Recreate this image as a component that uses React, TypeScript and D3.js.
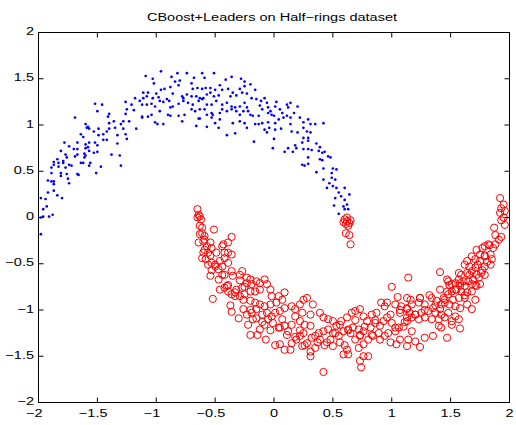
import React from "react";
import * as d3 from "d3";

const title = "CBoost+Leaders on Half\u2212rings dataset";
const xTicks = [-2, -1.5, -1, -0.5, 0, 0.5, 1, 1.5, 2];
const yTicks = [-2, -1.5, -1, -0.5, 0, 0.5, 1, 1.5, 2];

// class 1 (blue dots, upper half-ring)
const blueDots: [number, number][] = [
  [-1.98, -0.18], [-1.98, 0.0], [-1.96, 0.01], [-1.91, 0.01], [-1.88, 0.03], [-1.96, 0.09], [-1.93, 0.12],
  [-1.98, 0.21], [-1.94, 0.2], [-1.92, 0.27], [-1.87, 0.29], [-1.84, 0.24], [-1.8, 0.21], [-1.92, 0.4],
  [-1.89, 0.39], [-1.87, 0.39], [-1.87, 0.36], [-1.89, 0.48], [-1.87, 0.57], [-1.87, 0.6], [-1.89, 0.54],
  [-1.83, 0.59], [-1.83, 0.55], [-1.81, 0.48], [-1.81, 0.45], [-1.84, 0.63], [-1.81, 0.72], [-1.78, 0.81],
  [-1.77, 0.68], [-1.76, 0.65], [-1.79, 0.59], [-1.77, 0.54], [-1.76, 0.47], [-1.75, 0.42], [-1.74, 0.37],
  [-1.74, 0.57], [-1.72, 0.56], [-1.79, 0.61], [-1.74, 0.77], [-1.69, 0.66], [-1.67, 0.68], [-1.7, 0.74],
  [-1.67, 0.74], [-1.67, 0.47], [-1.66, 0.46], [-1.67, 0.81], [-1.64, 0.9], [-1.64, 0.59], [-1.62, 0.59],
  [-1.61, 0.65], [-1.62, 0.87], [-1.6, 0.75], [-1.6, 0.79], [-1.58, 0.76], [-1.57, 0.81], [-1.61, 0.69],
  [-1.6, 0.67], [-1.57, 0.72], [-1.6, 1.01], [-1.58, 0.98], [-1.57, 0.96], [-1.59, 0.97], [-1.56, 0.59],
  [-1.57, 0.56], [-1.53, 0.93], [-1.52, 0.81], [-1.5, 0.78], [-1.53, 0.7], [-1.52, 1.23], [-1.5, 1.15],
  [-1.46, 1.22], [-1.51, 0.48], [-1.47, 0.55], [-1.49, 0.89], [-1.49, 0.96], [-1.45, 0.9], [-1.45, 0.84],
  [-1.42, 0.84], [-1.5, 0.71], [-1.42, 0.93], [-1.4, 0.96], [-1.41, 1.09], [-1.4, 1.02], [-1.38, 0.68],
  [-1.31, 0.67], [-1.3, 0.56], [-1.33, 0.8], [-1.4, 1.12], [-1.36, 1.04], [-1.35, 0.97], [-1.33, 0.89],
  [-1.3, 1.01], [-1.28, 0.96], [-1.26, 0.9], [-1.25, 0.85], [-1.28, 1.04], [-1.26, 1.12], [-1.23, 1.04],
  [-1.26, 1.25], [-1.25, 1.17], [-1.21, 1.22], [-1.19, 1.16], [-1.18, 1.29], [-1.17, 0.96], [-1.14, 1.26],
  [-1.12, 1.08], [-1.69, 1.08],
  [-0.96, 1.58], [-1.09, 1.53], [-1.03, 1.5], [-1.02, 1.45], [-0.82, 1.56], [-0.74, 1.56], [-0.61, 1.56],
  [-0.59, 1.51], [-0.51, 1.56], [-0.87, 1.52], [-0.84, 1.47], [-0.8, 1.48], [-0.68, 1.51], [-0.36, 1.52],
  [-0.41, 1.49], [-0.28, 1.5], [-0.25, 1.47], [-0.2, 1.44], [-0.96, 1.38], [-0.93, 1.39], [-0.88, 1.41],
  [-0.81, 1.43], [-0.86, 1.34], [-0.7, 1.45], [-0.69, 1.39], [-0.65, 1.4], [-0.61, 1.39], [-0.58, 1.4],
  [-0.54, 1.4], [-0.5, 1.38], [-0.46, 1.43], [-0.44, 1.38], [-0.39, 1.39], [-0.35, 1.35], [-0.29, 1.39],
  [-0.25, 1.42], [-0.16, 1.38], [-1.11, 1.35], [-1.07, 1.35], [-1.11, 1.29], [-1.08, 1.31], [-1.03, 1.29],
  [-1.0, 1.34], [-0.98, 1.3], [-1.12, 1.22], [-1.08, 1.22], [-1.04, 1.23], [-1.01, 1.2], [-0.97, 1.26],
  [-0.94, 1.25], [-0.91, 1.28], [-0.89, 1.26], [-0.88, 1.19], [-0.86, 1.2], [-0.78, 1.31], [-0.77, 1.29],
  [-0.74, 1.33], [-0.7, 1.31], [-0.66, 1.31], [-0.63, 1.29], [-0.6, 1.29], [-0.57, 1.33], [-0.54, 1.35],
  [-0.51, 1.31], [-0.47, 1.32], [-0.37, 1.31], [-0.32, 1.32], [-0.27, 1.35], [-0.23, 1.34], [-0.19, 1.29],
  [-0.15, 1.28], [-0.81, 1.23], [-0.77, 1.26], [-0.73, 1.24], [-0.69, 1.22], [-0.64, 1.26], [-0.61, 1.28],
  [-0.57, 1.22], [-0.53, 1.22], [-0.49, 1.26], [-0.44, 1.22], [-0.4, 1.24], [-0.36, 1.2], [-0.33, 1.19],
  [-0.29, 1.2], [-0.25, 1.24], [-0.23, 1.19], [-1.12, 1.09], [-1.07, 1.09], [-1.04, 1.11], [-0.97, 1.15],
  [-0.9, 1.11], [-0.88, 1.1], [-0.81, 1.1], [-0.76, 1.11], [-0.7, 1.17], [-0.67, 1.15], [-0.63, 1.17],
  [-0.59, 1.17], [-0.57, 1.11], [-0.53, 1.13], [-0.52, 1.11], [-0.46, 1.13], [-0.44, 1.17], [-0.4, 1.15],
  [-0.36, 1.17], [-0.32, 1.15], [-0.29, 1.11], [-0.26, 1.15], [-0.22, 1.15], [-0.2, 1.11], [-0.18, 1.1],
  [-0.13, 1.1], [-1.01, 1.03], [-0.99, 1.01], [-0.94, 1.01], [-0.78, 1.04], [-0.64, 1.07], [-0.63, 1.07],
  [-0.53, 1.08], [-0.46, 1.06], [-0.35, 1.02], [-0.29, 1.04], [-0.25, 1.02], [-0.16, 1.01], [-0.13, 1.01],
  [-0.66, 0.99], [-0.57, 0.98], [-0.47, 0.97], [-0.5, 1.02], [-0.4, 0.89], [-0.33, 0.91], [-0.23, 0.97],
  [-0.17, 0.82],
  [-0.11, 1.26], [-0.08, 1.29], [-0.06, 1.24], [-0.12, 1.21], [-0.1, 1.17], [-0.05, 1.19], [-0.03, 1.15],
  [-0.02, 1.11], [-0.05, 1.13], [0.02, 1.25], [0.01, 1.2], [0.05, 1.17], [0.07, 1.13], [0.11, 1.22],
  [0.14, 1.24], [0.12, 1.19], [0.2, 1.2], [0.04, 1.06], [0.08, 1.08], [0.11, 1.1], [0.14, 1.08],
  [0.17, 1.13], [0.0, 1.1], [-0.05, 1.03], [-0.1, 1.02], [-0.04, 0.97], [-0.08, 0.95], [-0.06, 0.92],
  [0.01, 1.02], [0.01, 0.95], [0.06, 0.96], [0.14, 1.01], [0.15, 0.93], [0.22, 1.08], [0.25, 1.03],
  [0.29, 1.06], [0.31, 1.01], [0.35, 1.01], [0.42, 1.02], [0.25, 0.97], [0.28, 0.93], [0.31, 0.92],
  [0.2, 0.92], [0.25, 0.86], [0.29, 0.86], [0.29, 0.83], [0.24, 0.81], [0.25, 0.74], [0.29, 0.74],
  [0.18, 0.78], [0.19, 0.75], [0.16, 0.71], [0.09, 0.71], [0.12, 0.75], [0.0, 0.85], [-0.01, 0.75],
  [0.32, 0.73], [0.36, 0.8], [0.39, 0.76], [0.38, 0.72], [0.41, 0.7], [0.43, 0.71], [0.46, 0.66],
  [0.39, 0.63], [0.41, 0.62], [0.48, 0.65], [0.29, 0.65], [0.24, 0.57], [0.26, 0.56], [0.29, 0.58],
  [0.36, 0.49], [0.42, 0.53], [0.5, 0.53], [0.53, 0.52], [0.49, 0.48], [0.49, 0.43], [0.42, 0.41],
  [0.52, 0.41], [0.47, 0.37], [0.45, 0.32], [0.5, 0.34], [0.53, 0.32], [0.6, 0.32], [0.55, 0.27],
  [0.52, 0.21], [0.57, 0.23], [0.6, 0.19], [0.64, 0.25], [0.51, 0.13], [0.59, 0.12], [0.62, 0.14],
  [0.6, 0.09], [0.63, 0.09], [0.55, 0.04],
];

// class 2 (red circles, lower half-ring)
const redCircles: [number, number][] = [
  [0.6, -0.02], [0.62, -0.04], [0.64, -0.06], [0.61, -0.07], [0.63, -0.09], [0.65, -0.03], [0.59, -0.05],
  [0.62, 0.0], [0.64, -0.19], [0.61, -0.17], [0.65, -0.29],
  [-0.65, 0.09], [-0.64, 0.03], [-0.63, 0.01], [-0.65, 0.0], [-0.62, -0.02], [-0.63, -0.09], [-0.61, -0.11],
  [-0.51, -0.13], [-0.61, -0.17], [-0.63, -0.18], [-0.59, -0.2], [-0.64, -0.27], [-0.6, -0.26], [-0.54, -0.27],
  [-0.36, -0.21], [-0.39, -0.27], [-0.43, -0.29], [-0.44, -0.31], [-0.59, -0.35], [-0.56, -0.38], [-0.6, -0.38],
  [-0.57, -0.31], [-0.53, -0.33], [-0.49, -0.38], [-0.61, -0.44], [-0.58, -0.45], [-0.56, -0.51], [-0.53, -0.49],
  [-0.5, -0.53], [-0.47, -0.56], [-0.44, -0.53], [-0.46, -0.47], [-0.42, -0.44], [-0.39, -0.49], [-0.36, -0.4],
  [-0.39, -0.38], [-0.42, -0.38], [-0.54, -0.63], [-0.47, -0.67], [-0.42, -0.62], [-0.36, -0.58], [-0.35, -0.63],
  [-0.29, -0.62], [-0.27, -0.58], [-0.23, -0.65], [-0.2, -0.67], [-0.42, -0.76], [-0.39, -0.8], [-0.4, -0.74],
  [-0.36, -0.83], [-0.33, -0.85], [-0.32, -0.78], [-0.27, -0.76], [-0.25, -0.75], [-0.23, -0.71], [-0.19, -0.72],
  [-0.15, -0.69], [-0.12, -0.71], [-0.08, -0.67], [-0.06, -0.72], [-0.03, -0.78], [-0.12, -0.78], [-0.16, -0.8],
  [-0.2, -0.8], [-0.25, -0.83], [-0.29, -0.85], [-0.52, -0.88], [-0.36, -1.02], [-0.2, -0.9], [-0.16, -0.92],
  [-0.12, -0.94], [-0.08, -0.96], [-0.03, -0.94], [0.02, -0.92], [0.09, -0.81], [0.07, -0.89], [-0.02, -0.85],
  [0.04, -0.85], [-0.26, -0.99], [-0.23, -1.05], [-0.19, -1.03], [-0.15, -0.99], [-0.1, -1.05], [-0.06, -1.03],
  [-0.02, -1.07], [0.01, -1.03], [0.05, -1.01], [0.09, -0.98], [0.15, -0.96], [0.18, -0.99], [0.22, -0.94],
  [0.25, -0.89], [-0.2, -1.27], [-0.12, -1.21], [-0.08, -1.16], [-0.01, -1.14], [0.04, -1.19], [0.09, -1.17],
  [0.15, -1.16], [0.22, -1.12], [0.12, -1.23], [0.05, -1.37], [0.14, -1.43], [0.19, -1.32], [0.24, -1.39],
  [0.25, -1.25], [-0.18, -1.1], [-0.05, -1.1], [0.07, -1.1], [0.18, -1.07],
  [1.0, -0.75], [1.05, -0.86], [1.13, -0.87], [1.08, -0.96], [1.13, -0.99], [1.03, -0.94], [0.96, -0.92],
  [0.91, -0.92], [0.94, -0.96], [0.96, -1.08], [1.0, -1.14], [1.06, -1.19], [1.03, -1.23], [1.1, -1.18],
  [1.13, -1.12], [1.07, -1.03], [0.28, -0.87], [0.33, -0.94], [0.24, -1.03], [0.31, -1.05], [0.26, -1.16],
  [0.22, -1.28], [0.28, -1.36], [0.31, -1.5], [0.35, -1.41], [0.31, -1.17], [0.39, -1.03], [0.42, -1.08],
  [0.46, -1.1], [0.5, -1.12], [0.53, -1.17], [0.57, -1.12], [0.62, -1.08], [0.66, -1.03], [0.69, -1.01],
  [0.73, -0.99], [0.76, -1.07], [0.79, -1.12], [0.83, -1.05], [0.87, -1.03], [0.93, -1.12], [0.9, -1.17],
  [0.86, -1.14], [0.82, -1.19], [0.76, -1.23], [0.72, -1.21], [0.67, -1.19], [0.63, -1.21], [0.59, -1.23],
  [0.55, -1.28], [0.5, -1.25], [0.46, -1.21], [0.42, -1.23], [0.38, -1.25], [0.35, -1.28], [0.39, -1.32],
  [0.45, -1.35], [0.5, -1.39], [0.56, -1.35], [0.62, -1.43], [0.59, -1.48], [0.63, -1.48], [0.72, -1.41],
  [0.76, -1.37], [0.8, -1.32], [0.84, -1.28], [0.89, -1.25], [0.94, -1.28], [0.99, -1.35], [1.04, -1.37],
  [1.07, -1.32], [0.42, -1.67], [0.73, -1.55], [0.74, -1.62], [0.76, -1.5], [0.8, -1.5], [0.65, -1.25],
  [0.73, -1.28], [0.69, -1.32],
  [1.92, 0.21], [1.95, 0.14], [1.93, 0.1], [1.96, 0.07], [1.92, 0.05], [1.95, 0.0], [1.93, -0.03],
  [1.96, -0.08], [1.87, -0.11], [1.93, -0.21], [1.91, -0.24], [1.88, -0.29], [1.86, -0.33], [1.82, -0.29],
  [1.79, -0.31], [1.77, -0.33], [1.72, -0.35], [1.75, -0.4], [1.79, -0.42], [1.84, -0.4], [1.85, -0.45],
  [1.81, -0.48], [1.75, -0.47], [1.71, -0.45], [1.68, -0.42], [1.64, -0.47], [1.62, -0.51], [1.66, -0.53],
  [1.71, -0.54], [1.79, -0.53], [1.84, -0.51], [1.41, -0.59], [1.14, -0.65], [1.57, -0.6], [1.59, -0.62],
  [1.64, -0.6], [1.68, -0.58], [1.72, -0.62], [1.76, -0.6], [1.79, -0.62], [1.74, -0.65], [1.69, -0.67],
  [1.65, -0.69], [1.61, -0.69], [1.57, -0.67], [1.54, -0.71], [1.51, -0.72], [1.48, -0.69], [1.47, -0.67],
  [1.58, -0.74], [1.62, -0.74], [1.68, -0.72], [1.72, -0.74], [1.75, -0.72], [1.47, -0.8], [1.51, -0.8],
  [1.55, -0.78], [1.59, -0.8], [1.64, -0.81], [1.68, -0.8], [1.71, -0.89], [1.62, -0.87], [1.57, -0.87],
  [1.52, -0.89], [1.48, -0.83], [1.44, -0.87], [1.45, -0.92], [1.49, -0.94], [1.54, -0.96], [1.58, -0.98],
  [1.64, -0.94], [1.68, -0.99], [1.24, -0.87], [1.34, -0.87], [1.38, -0.9], [1.42, -0.94], [1.41, -0.99],
  [1.35, -0.98], [1.28, -0.94], [1.23, -0.92], [1.17, -0.94], [1.13, -0.98], [1.15, -1.03], [1.2, -1.05],
  [1.25, -1.03], [1.31, -1.01], [1.37, -1.03], [1.42, -1.05], [1.48, -1.03], [1.54, -1.07], [1.57, -1.1],
  [1.51, -1.12], [1.45, -1.08], [1.4, -1.1], [1.34, -1.1], [1.28, -1.08], [1.23, -1.1], [1.17, -1.08],
  [1.13, -1.08], [1.58, -1.2], [1.47, -1.3], [1.35, -1.28], [1.28, -1.3], [1.24, -1.4], [1.2, -1.34],
  [1.14, -1.32], [1.13, -1.39], [1.4, -1.17], [1.51, -1.16], [1.42, -1.19], [1.17, -1.23],
  [-0.26, -0.89], [-0.2, -1.0], [-0.15, -1.09], [-0.1, -1.13], [-0.03, -1.22], [0.05, -1.19], [0.11, -1.27],
  [0.18, -1.29], [0.22, -1.22], [0.26, -1.38], [0.32, -1.3], [0.37, -1.35], [0.43, -1.38], [0.52, -1.25],
  [0.56, -1.16], [0.63, -1.22], [0.69, -1.11], [0.77, -1.18], [0.83, -1.27], [0.9, -1.32], [0.97, -1.25],
  [1.03, -1.19], [1.11, -1.13], [1.2, -1.05], [1.28, -1.0], [1.37, -0.95], [1.45, -0.89], [1.54, -0.78],
  [1.58, -0.71], [1.66, -0.62], [1.73, -0.51], [1.79, -0.41], [1.83, -0.3],
  [-0.59, -0.24], [-0.54, -0.41], [-0.5, -0.51], [-0.44, -0.62], [-0.39, -0.73], [-0.33, -0.81], [-0.29, -0.68],
  [-0.53, -0.57], [-0.46, -0.78], [-0.37, -0.95], [-0.3, -1.09], [-0.22, -1.16], [-0.14, -1.27], [-0.07, -1.32],
  [0.01, -1.38], [0.09, -1.43], [0.15, -1.36], [0.31, -1.45], [0.48, -1.32], [0.6, -1.38], [0.73, -1.27],
  [0.86, -1.11], [0.99, -1.05], [1.07, -1.0], [1.16, -0.89], [1.24, -0.87], [1.32, -0.84], [1.41, -0.78],
  [1.49, -0.73], [1.62, -0.84], [1.71, -0.73], [1.77, -0.57], [1.88, -0.19],
];

const W = 516;
const H = 425;
const left = 38.5, right = 509.5, top = 32.5, bottom = 402.5;
const SX = 1.32; // horizontal text stretch of the reference
const FONT = "'Liberation Sans', Arial, Helvetica, sans-serif";

const fmt = (d: number) => (d < 0 ? "\u2212" + Math.abs(d) : String(d));

export default function App() {
  const x = d3.scaleLinear().domain([-2, 2]).range([left, right]);
  const y = d3.scaleLinear().domain([-2, 2]).range([bottom, top]);
  const tl = 5;
  return (
    <svg width={W} height={H} style={{ position: "absolute", left: 0, top: 0, background: "#fff" }}>
      <rect x={0} y={0} width={W} height={H} fill="#fff" />
      <g>
        {blueDots.map((p, i) => (
          <circle key={"b" + i} cx={x(p[0])} cy={y(p[1])} r={1.35} fill="#0000ff" />
        ))}
        {redCircles.map((p, i) => (
          <circle key={"r" + i} cx={x(p[0])} cy={y(p[1])} r={3.6} fill="none" stroke="#ff0000" strokeWidth={1} />
        ))}
      </g>
      <rect x={left} y={top} width={right - left} height={bottom - top} fill="none" stroke="#000" strokeWidth={1} />
      {xTicks.map((t) => (
        <g key={"xt" + t}>
          <line x1={x(t)} x2={x(t)} y1={bottom} y2={bottom - tl} stroke="#000" />
          <line x1={x(t)} x2={x(t)} y1={top} y2={top + tl} stroke="#000" />
          <text
            transform={`translate(${x(t) - (t < 0 ? 4.2 : 0)},${bottom + 14}) scale(${SX},1)`}
            textAnchor="middle"
            fontFamily={FONT}
            fontSize={11}
            fill="#000"
          >
            {fmt(t)}
          </text>
        </g>
      ))}
      {yTicks.map((t) => (
        <g key={"yt" + t}>
          <line x1={left} x2={left + tl} y1={y(t)} y2={y(t)} stroke="#000" />
          <line x1={right} x2={right - tl} y1={y(t)} y2={y(t)} stroke="#000" />
          <text
            transform={`translate(34,${y(t) + 2.5}) scale(${SX},1)`}
            textAnchor="end"
            fontFamily={FONT}
            fontSize={11}
            fill="#000"
          >
            {fmt(t)}
          </text>
        </g>
      ))}
      <text
        transform={`translate(272,20.5) scale(${SX},1)`}
        textAnchor="middle"
        fontFamily={FONT}
        fontSize={11}
        fill="#000"
      >
        {title}
      </text>
    </svg>
  );
}
